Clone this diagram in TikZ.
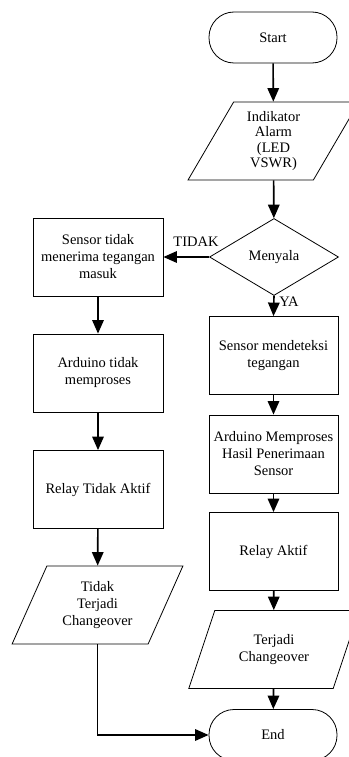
\documentclass[tikz,border=0pt]{standalone}
\usepackage{fontspec}
\setmainfont{Liberation Serif}
\usepackage{tikz}
\usetikzlibrary{arrows.meta}
\usetikzlibrary{shapes.geometric}

\begin{document}
\begin{tikzpicture}[
        x=1pt, y=-1pt,
        every node/.style={font=\fontsize{14.5}{17}\selectfont},
        flow/.style={-{Triangle[length=13.5pt,width=11.5pt]}, line width=1.6pt},
        proc/.style={draw, line width=0.8pt, minimum width=129pt,
              minimum height=78pt, align=center, inner sep=0pt},
        term/.style={draw, line width=0.8pt, rounded corners=25pt,
              minimum width=128pt, minimum height=51pt},
        io/.style={draw, line width=0.8pt, trapezium, trapezium left angle=63,
              trapezium right angle=117, trapezium stretches=true,
              minimum width=171pt, minimum height=78pt, align=center, inner sep=0pt},
        decide/.style={draw, line width=0.8pt, diamond, minimum width=129pt,
              minimum height=77pt, inner sep=0pt},
    ]
    \useasboundingbox (0,0) rectangle (348,757);
    % Start
    \node[term] (start) at (273,37.5) {Start};
    % Indikator
    \node[io, font=\fontsize{14.5}{15.5}\selectfont] (ind) at (273.5,141) {Indikator\\Alarm\\(LED\\VSWR)};
    % Menyala?
    \node[decide] (dec) at (274,257) {Menyala};
    % cabang YA
    \node[proc] (r1) at (273.5,355.5) {Sensor mendeteksi\\tegangan};
    \node[proc] (r2) at (273.5,454) {Arduino Memproses\\Hasil Penerimaan\\Sensor};
    \node[proc] (r3) at (273.5,551.5) {Relay Aktif};
    \node[io] (r4) at (274,649.5) {Terjadi\\Changeover};
    % cabang TIDAK
    \node[proc, minimum width=130pt] (l1) at (98,257) {Sensor tidak\\menerima tegangan\\masuk};
    \node[proc, minimum width=130pt] (l2) at (98,373) {Arduino tidak\\memproses};
    \node[proc, minimum width=130pt] (l3) at (98,489.5) {Relay Tidak Aktif};
    \node[io] (l4) at (97.5,605) {Tidak\\Terjadi\\Changeover};
    % End
    \node[term] (end) at (273,735) {End};
    % label
    \node (tidak) at (196,242) {TIDAK};
    \node (ya) at (289,302) {YA};
    % panah
    \draw[flow] (start) -- (ind);
    \draw[flow] (ind) -- (dec);
    \draw[flow] (dec.west) -- (l1.east);
    \draw[flow] (dec.south) -- (r1.north);
    \draw[flow] (r1) -- (r2);
    \draw[flow] (r2) -- (r3);
    \draw[flow] (r3) -- (r4);
    \draw[flow] (r4) -- (end);
    \draw[flow] (l1) -- (l2);
    \draw[flow] (l2) -- (l3);
    \draw[flow] (l3) -- (l4);
    \draw[flow] (l4.center |- l4.south) |- (end.west);
\end{tikzpicture}
\end{document}
